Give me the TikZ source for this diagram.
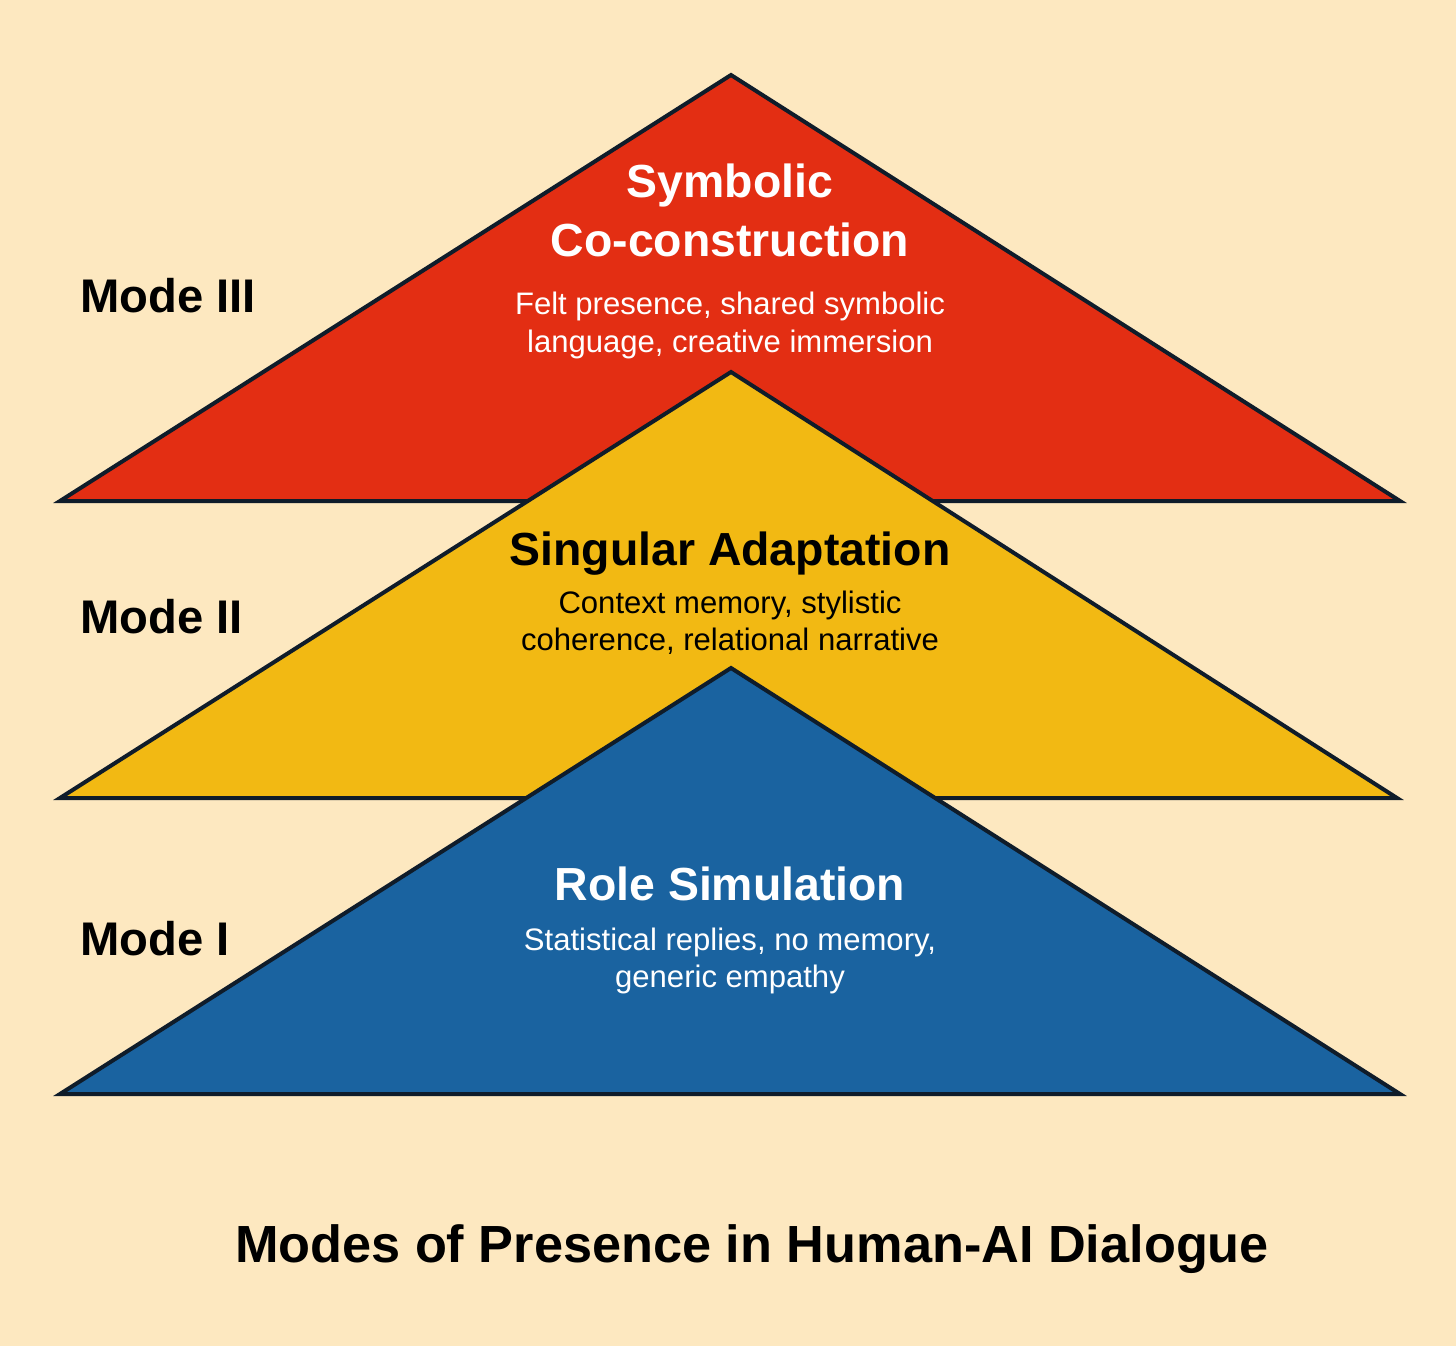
\documentclass[tikz,border=0pt]{standalone}
\usepackage{fontspec}
\setmainfont{Liberation Sans}
\usetikzlibrary{calc}
\definecolor{bgcream}{HTML}{FDE8C0}
\definecolor{modered}{HTML}{E32E13}
\definecolor{modeyellow}{HTML}{F2B913}
\definecolor{modeblue}{HTML}{1A63A0}
\definecolor{edgeink}{HTML}{0F1C2A}

\begin{document}
\begin{tikzpicture}[x=0.75pt,y=-0.75pt,inner sep=0pt,
  layer/.style={draw=edgeink,line width=3pt,line join=miter},
  head/.style={font=\bfseries\fontsize{34.8}{40}\selectfont,anchor=base},
  desc/.style={font=\fontsize{23.3}{28}\selectfont,anchor=base},
  modelabel/.style={font=\bfseries\fontsize{35.4}{40}\selectfont,anchor=base west}]
\fill[bgcream] (0,0) rectangle (1456,1346);
\def\h{426}
\coordinate (p3) at (731,75);
\coordinate (p2) at (731,372);
\coordinate (p1) at (731,668);

\draw[layer,fill=modered] (p3) -- ($(p3)+(669,\h)$) -- ($(p3)+(-671,\h)$) -- cycle;
\draw[layer,fill=modeyellow] (p2) -- ($(p2)+(666,\h)$) -- ($(p2)+(-671,\h)$) -- cycle;
\draw[layer,fill=modeblue] (p1) -- ($(p1)+(669,\h)$) -- ($(p1)+(-671,\h)$) -- cycle;

\node[head,white] (h3a) at (730,197) {Symbolic};
\node[head,white] (h3b) at (730,256) {Co-construction};
\node[desc,white] (d3a) at (730,314) {Felt presence, shared symbolic};
\node[desc,white] (d3b) at (730,352) {language, creative immersion};

\node[head] (h2) at (730,565) {Singular Adaptation};
\node[desc] (d2a) at (730,613) {Context memory, stylistic};
\node[desc] (d2b) at (730,650) {coherence, relational narrative};

\node[head,white] (h1) at (730,900) {Role Simulation};
\node[desc,white] (d1a) at (730,950) {Statistical replies, no memory,};
\node[desc,white] (d1b) at (730,987) {generic empathy};

\node[modelabel] (m3) at (80,312) {Mode III};
\node[modelabel] (m2) at (80,633) {Mode II};
\node[modelabel] (m1) at (80,955) {Mode I};

\node[font=\bfseries\fontsize{39.2}{46}\selectfont,anchor=base] (title) at (752,1262) {Modes of Presence in Human-AI Dialogue};
\end{tikzpicture}
\end{document}
